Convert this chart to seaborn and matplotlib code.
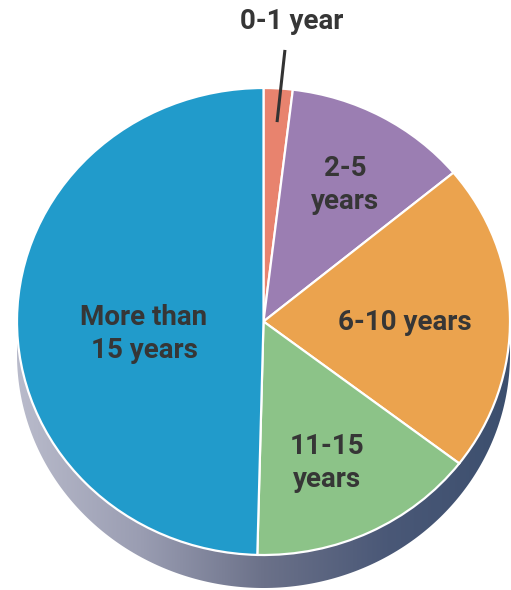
import numpy as np
import matplotlib
matplotlib.use("Agg")
import matplotlib.pyplot as plt
from matplotlib.patches import Polygon
import seaborn as sns

# ---- data ----
categories = ["0-1 year", "2-5 years", "6-10 years", "11-15 years", "More than 15 years"]
shares = [1.9, 12.1, 21.4, 15.0, 49.6]
label_texts = ["0-1 year", "2-5\nyears", "6-10 years", "11-15\nyears", "More than\n15 years"]
slice_colors = ["#E8836E", "#9B7EB2", "#EBA34E", "#8CC388", "#219BCB"]

sns.set_theme(style="white")
plt.rcParams["font.family"] = ["Roboto", "DejaVu Sans"]

fig = plt.figure(figsize=(5.11, 5.90), dpi=100)
ax = fig.add_axes([0, 0, 1, 1])

wedges, _ = ax.pie(shares, colors=slice_colors, startangle=90, counterclock=False,
                   radius=1, center=(0, 0),
                   wedgeprops=dict(edgecolor="white", linewidth=1.6, zorder=3))

# elliptical (tilted) look: pixel mapping
cx, cy, rx, ry = 263.5, 321.5, 246.5, 233.5
W, H = 511, 590
ax.set_aspect("auto")
ax.set_xlim((0 - cx) / rx, (W - cx) / rx)
ax.set_ylim((cy - H) / ry, (cy - 0) / ry)
ax.axis("off")

# side (depth) of the 3D disc
depth = 33 / ry
t = np.linspace(np.pi, 2 * np.pi, 300)
upper = np.column_stack([np.cos(t), np.sin(t)])
lower = np.column_stack([np.cos(t[::-1]), np.sin(t[::-1]) - depth])
side = Polygon(np.vstack([upper, lower]), closed=True, facecolor="none",
               edgecolor="none", zorder=1)
ax.add_patch(side)
grad = np.linspace(0, 1, 256)[None, :]
cmap = matplotlib.colors.LinearSegmentedColormap.from_list(
    "side", ["#B9BBCB", "#9A9DB2", "#6B7189", "#4A5877", "#3C4F6E"])
im = ax.imshow(grad, cmap=cmap, aspect="auto", extent=(-1.0, 1.0, -1 - depth, 0.0),
               zorder=1, interpolation="bicubic")
im.set_clip_path(side)

# labels
txt_kw = dict(fontsize=20, fontweight="bold", color="#363636", ha="center",
              va="center", linespacing=1.25, zorder=5)
positions = [(0.116, 1.283), (0.331, 0.585), (0.574, -0.006), (0.258, -0.606), (-0.485, -0.054)]
for lab, (x, y) in zip(label_texts, positions):
    ax.text(x, y, lab, **txt_kw)
ax.plot([0.087, 0.055], [1.163, 0.854], color="#333333", lw=2.2, zorder=6,
        solid_capstyle="butt")

fig.savefig("out.png", dpi=100)
